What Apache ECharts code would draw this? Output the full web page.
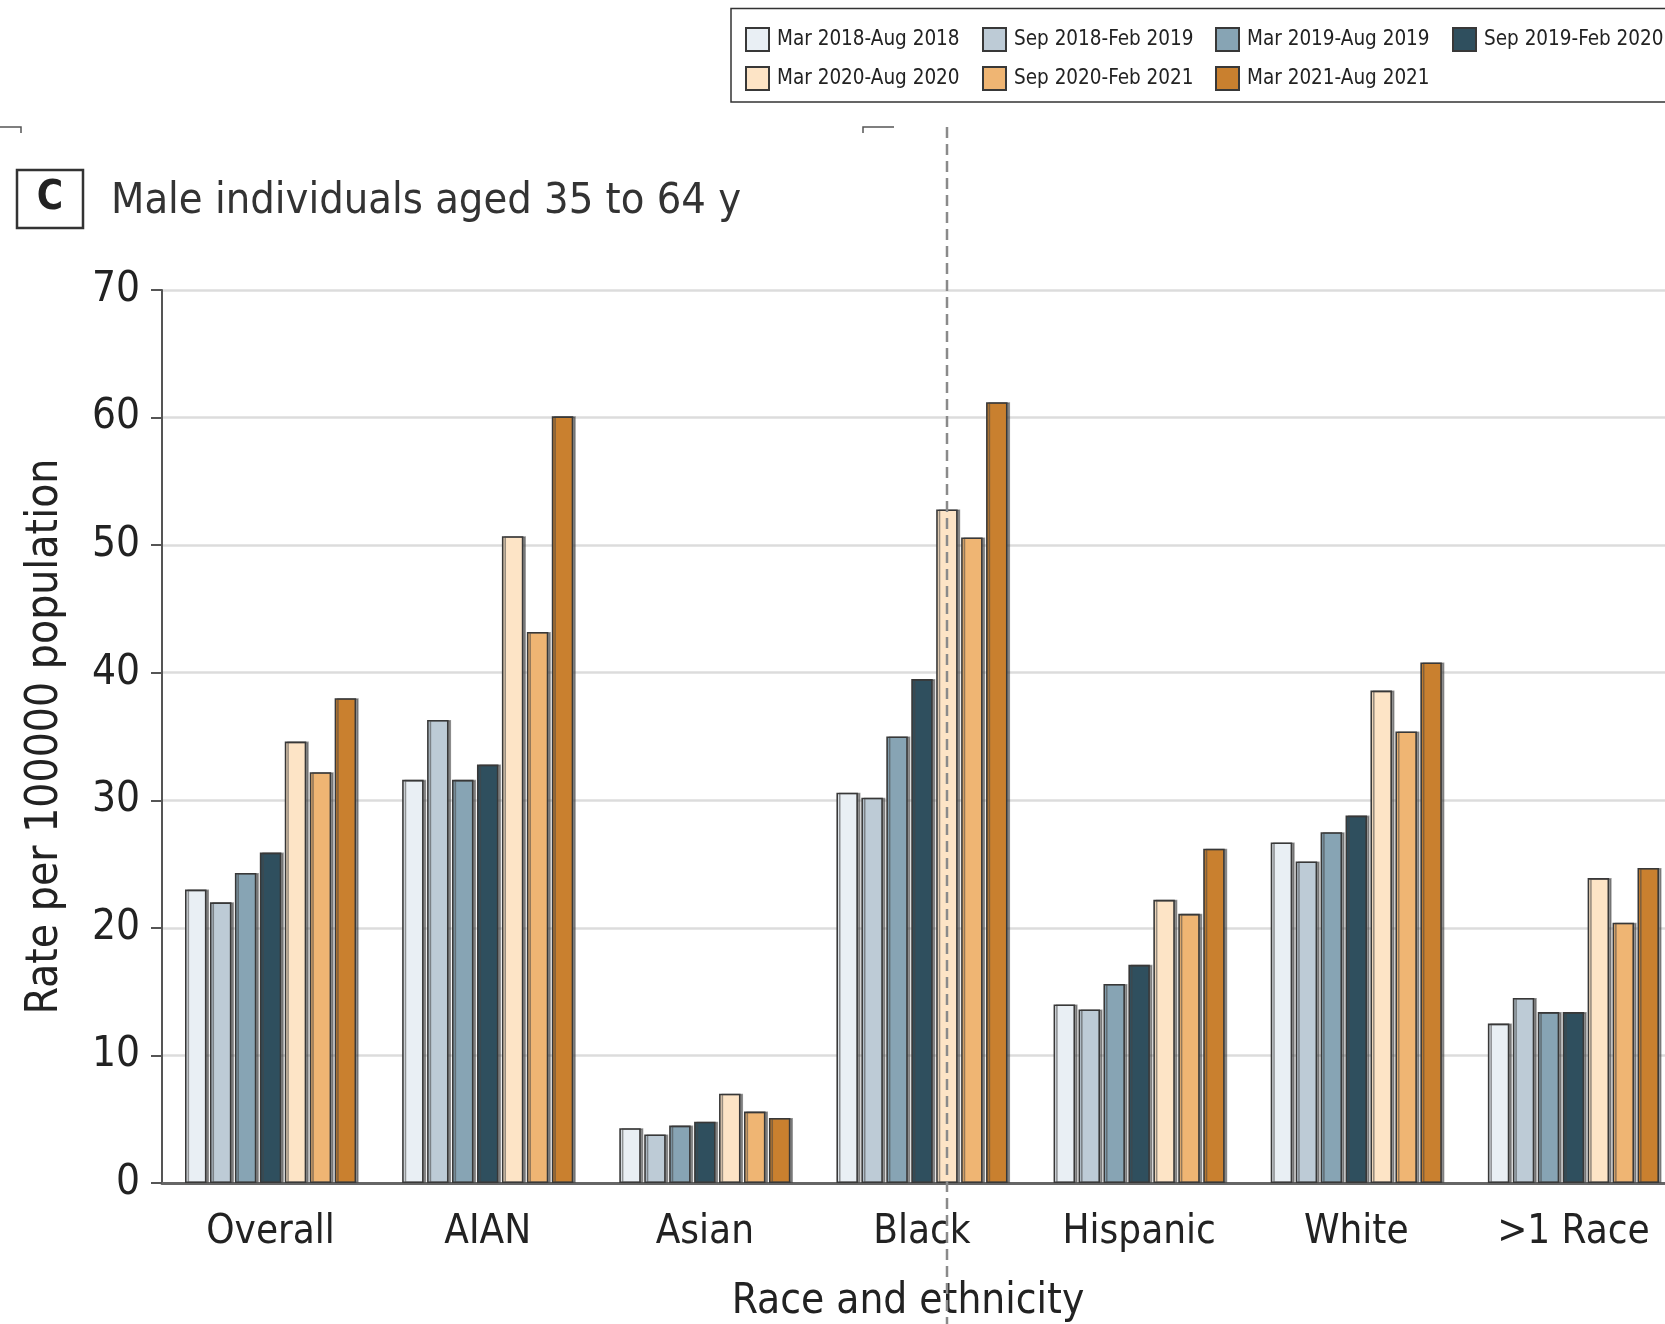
<!DOCTYPE html>
<html>
<head>
<meta charset="utf-8">
<script src="https://cdn.jsdelivr.net/npm/echarts@6/dist/echarts.min.js"></script>
<style>
html,body{margin:0;padding:0;background:#fff;}
#c{width:1665px;height:1324px;}
</style>
</head>
<body>
<div id="c"></div>
<script>
// ---- data ----
const categories = ['Overall', 'AIAN', 'Asian', 'Black', 'Hispanic', 'White', '>1 Race'];
const periods = ['Mar 2018-Aug 2018', 'Sep 2018-Feb 2019', 'Mar 2019-Aug 2019', 'Sep 2019-Feb 2020',
                 'Mar 2020-Aug 2020', 'Sep 2020-Feb 2021', 'Mar 2021-Aug 2021'];
const mar2018 = [23.0, 31.6, 4.3, 30.6, 14.0, 26.7, 12.5];
const sep2018 = [22.0, 36.3, 3.8, 30.2, 13.6, 25.2, 14.5];
const mar2019 = [24.3, 31.6, 4.5, 35.0, 15.6, 27.5, 13.4];
const sep2019 = [25.9, 32.8, 4.8, 39.5, 17.1, 28.8, 13.4];
const mar2020 = [34.6, 50.7, 7.0, 52.8, 22.2, 38.6, 23.9];
const sep2020 = [32.2, 43.2, 5.6, 50.6, 21.1, 35.4, 20.4];
const mar2021 = [38.0, 60.1, 5.1, 61.2, 26.2, 40.8, 24.7];
const seriesValues = [mar2018, sep2018, mar2019, sep2019, mar2020, sep2020, mar2021];
const yTicks = [0, 10, 20, 30, 40, 50, 60, 70];

// ---- style ----
const colors = ['#e9eff4', '#bdcbd6', '#87a4b4', '#2f4f5e', '#fde4c6', '#efb573', '#c9802f'];
const FONT = "'Liberation Sans Narrow', 'DejaVu Sans Condensed', 'Roboto Condensed', 'Liberation Sans', sans-serif";

const chart = echarts.init(document.getElementById('c'));

const legendPos = [
  [740, 22], [977, 22], [1210, 22], [1447, 22],
  [740, 61], [977, 61], [1210, 61]
];

const option = {
  animation: false,
  backgroundColor: '#fff',
  title: {
    text: 'Male individuals aged 35 to 64 y',
    left: 106, top: 175,
    textStyle: { fontFamily: FONT, fontSize: 43, fontWeight: 'normal', color: '#333' }
  },
  legend: periods.map((p, i) => ({
    data: [p],
    left: legendPos[i][0], top: legendPos[i][1],
    itemWidth: 23, itemHeight: 23, icon: 'rect',
    selectedMode: false,
    textStyle: { fontFamily: FONT, fontSize: 20.5, color: '#222', padding: [0, 0, 0, 3] }
  })),
  grid: { left: 162, top: 290, width: 1520, height: 893, outerBoundsMode: 'none', containLabel: false },
  xAxis: {
    type: 'category',
    data: categories,
    name: 'Race and ethnicity',
    nameLocation: 'middle',
    nameGap: 98,
    nameTextStyle: { fontFamily: FONT, fontSize: 42, color: '#222', padding: [0, 28, 0, 0] },
    axisLine: { lineStyle: { color: '#666', width: 3 } },
    axisTick: { show: false },
    axisLabel: { interval: 0, fontFamily: FONT, fontSize: 40, color: '#222', margin: 30, hideOverlap: false }
  },
  yAxis: {
    type: 'value',
    min: yTicks[0], max: yTicks[yTicks.length - 1], interval: 10,
    name: 'Rate per 100000 population',
    nameLocation: 'middle',
    nameRotate: 90,
    nameGap: 94,
    nameTextStyle: { fontFamily: FONT, fontSize: 44, color: '#222' },
    axisLine: { show: true, lineStyle: { color: '#555', width: 2 } },
    axisTick: { show: true, length: 11, lineStyle: { color: '#555', width: 2 } },
    axisLabel: { fontFamily: FONT, fontSize: 42, color: '#222', margin: 22 },
    splitLine: { lineStyle: { color: '#dcdcdc', width: 2.5 } }
  },
  series: seriesValues.map((vals, i) => ({
    name: periods[i],
    type: 'bar',
    data: vals,
    barWidth: 21.5,
    barGap: '16%',
    itemStyle: {
      color: colors[i],
      borderColor: '#383838',
      borderWidth: 1.6,
      shadowColor: 'rgba(70,70,70,0.55)',
      shadowOffsetX: 2.5,
      shadowOffsetY: 0,
      shadowBlur: 0
    }
  })),
  graphic: [
    { type: 'rect', shape: { x: 731, y: 8.5, width: 960, height: 93.5 },
      style: { fill: 'none', stroke: '#333', lineWidth: 1.5 }, z: 10 },
    { type: 'rect', shape: { x: 17, y: 170, width: 66, height: 58 },
      style: { fill: '#fff', stroke: '#333', lineWidth: 2.5 }, z: 10 },
    { type: 'text', x: 50, y: 199, z: 11,
      style: { text: 'C', fontFamily: FONT, fontSize: 40, fontWeight: 'bold', fill: '#222',
               textAlign: 'center', textVerticalAlign: 'middle' } },
    { type: 'polyline', shape: { points: [[0, 127], [21, 127], [21, 133]] },
      style: { stroke: '#555', lineWidth: 1.5, fill: 'none' }, z: 10 },
    { type: 'polyline', shape: { points: [[863, 133], [863, 127], [894, 127]] },
      style: { stroke: '#555', lineWidth: 1.5, fill: 'none' }, z: 10 },
    { type: 'line', shape: { x1: 947, y1: 127, x2: 947, y2: 1324 },
      style: { stroke: '#8a8a8a', lineWidth: 2.5, lineDash: [11, 6] }, z: 100 }
  ]
};
chart.setOption(option);
</script>
</body>
</html>
